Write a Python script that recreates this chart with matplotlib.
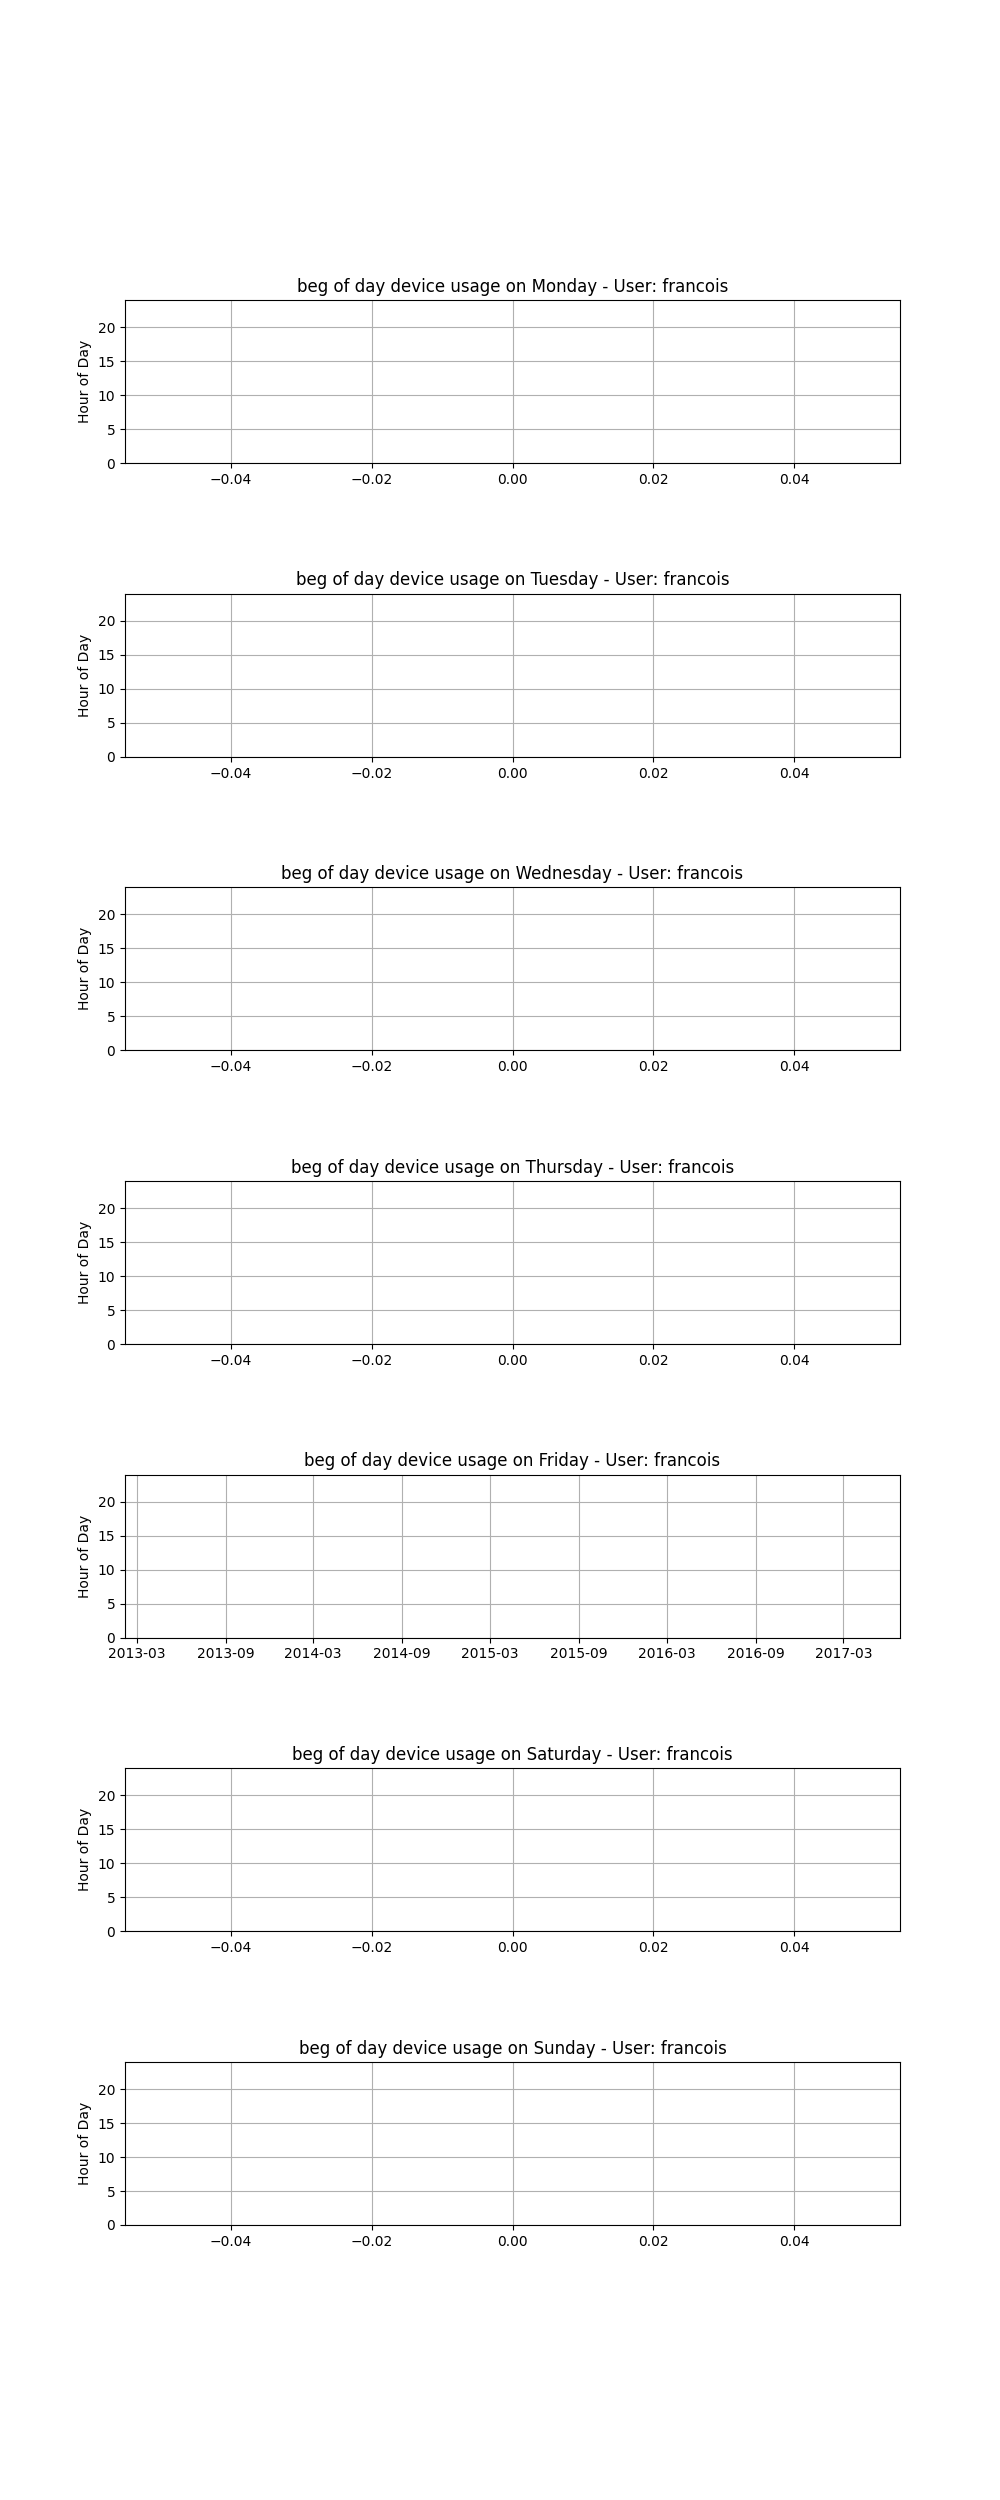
import matplotlib
matplotlib.use('Agg')
import matplotlib.pyplot as plt
import matplotlib.dates as mdates
import pandas as pd

user = 'francois'
days = ['Monday', 'Tuesday', 'Wednesday', 'Thursday', 'Friday', 'Saturday', 'Sunday']

# only Friday has any dates recorded, and no usable hour values
friday_dates = pd.to_datetime(['2013-04-19', '2017-04-14'])
friday_hours = [float('nan'), float('nan')]

usage = {day: ([], []) for day in days}
usage['Friday'] = (friday_dates, friday_hours)

hour_ticks = [0, 5, 10, 15, 20]


fig, axes = plt.subplots(len(days), 1, figsize=(10, 25))
fig.subplots_adjust(hspace=0.8)

for ax, day in zip(axes, days):
    dates, hours = usage[day]
    if len(dates):
        ax.plot(dates, [0] * len(dates), linestyle='None', marker='None')
        ax.plot(dates, hours, 'o')
        ax.xaxis.set_major_locator(mdates.MonthLocator(bymonth=[3, 9]))
        ax.xaxis.set_major_formatter(mdates.DateFormatter('%Y-%m'))
    else:
        ax.plot([], [])
    ax.set_ylim(0, 24)
    ax.set_yticks(hour_ticks)
    ax.set_ylabel('Hour of Day')
    ax.set_title('beg of day device usage on ' + day + ' - User: ' + user)
    ax.grid(True)

plt.savefig('out.png', dpi=100)
plt.close()
